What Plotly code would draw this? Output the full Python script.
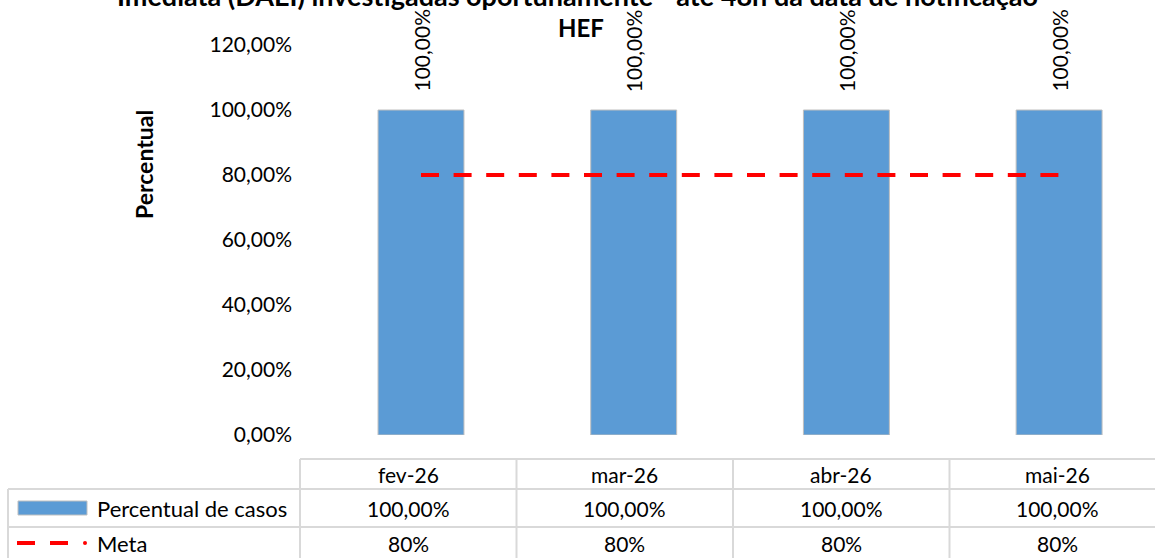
import plotly.graph_objects as go

# ---- data ----
categories = ["fev-26", "mar-26", "abr-26", "mai-26"]
percentual_casos = [100.0, 100.0, 100.0, 100.0]
meta = [80, 80, 80, 80]
y_ticks = [0, 20, 40, 60, 80, 100, 120]

title_line1 = "Imediata (DAEI) investigadas oportunamente - até 48h da data de notificação"
title_line2 = "HEF"
series_names = ["Percentual de casos", "Meta"]

FONT = "Lato"
W, H = 1155, 558
ML, MR, MT, MB = 298, 0, 45, 123
PW = W - ML - MR
PH = H - MT - MB


def fmt2(v):
    return f"{v:.2f}".replace(".", ",") + "%"


def px_x(px):
    return (px - ML) / PW


def px_y(py):
    return (H - MB - py) / PH


fig = go.Figure()

fig.add_trace(go.Bar(
    x=categories, y=percentual_casos, name=series_names[0],
    width=0.404,
    marker=dict(color="#5B9BD5", line=dict(color="#BFBFBF", width=1)),
    showlegend=False, hoverinfo="skip",
))
fig.add_trace(go.Scatter(
    x=categories, y=meta, name=series_names[1], mode="lines",
    line=dict(color="#FF0000", width=4, dash="18px,14.6px"),
    showlegend=False, hoverinfo="skip",
))

annotations = []
# bar value labels (rotated)
for c, v in zip(categories, percentual_casos):
    annotations.append(dict(
        x=c, y=v, xref="x", yref="y", text=fmt2(v), textangle=-90,
        showarrow=False, xanchor="center", yanchor="bottom", yshift=16,
        font=dict(family=FONT, size=21, color="#000000"),
    ))

# title
annotations.append(dict(
    x=px_x(W / 2), y=px_y(-5), xref="paper", yref="paper", text="<b>" + title_line1 + "</b>",
    showarrow=False, xanchor="center", yanchor="middle",
    font=dict(family=FONT, size=27, color="#000000"),
))
annotations.append(dict(
    x=px_x(W / 2 + 3), y=px_y(28), xref="paper", yref="paper", text="<b>" + title_line2 + "</b>",
    showarrow=False, xanchor="center", yanchor="middle",
    font=dict(family=FONT, size=24, color="#000000"),
))
# y axis title
annotations.append(dict(
    x=px_x(144), y=px_y(165), xref="paper", yref="paper", text="<b>Percentual</b>",
    textangle=-90, showarrow=False, xanchor="center", yanchor="middle",
    font=dict(family=FONT, size=23, color="#000000"),
))

# ---- data table below the chart ----
row_centers = [474, 508, 543]
for i, c in enumerate(categories):
    annotations.append(dict(x=i, y=px_y(row_centers[0]), xref="x2", yref="paper", text=c,
                            showarrow=False, xanchor="center", yanchor="middle",
                            font=dict(family=FONT, size=21, color="#000000")))
    annotations.append(dict(x=i, y=px_y(row_centers[1]), xref="x2", yref="paper",
                            text=fmt2(percentual_casos[i]),
                            showarrow=False, xanchor="center", yanchor="middle",
                            font=dict(family=FONT, size=21, color="#000000")))
    annotations.append(dict(x=i, y=px_y(row_centers[2]), xref="x2", yref="paper",
                            text=f"{meta[i]}%",
                            showarrow=False, xanchor="center", yanchor="middle",
                            font=dict(family=FONT, size=21, color="#000000")))
for name, rc in zip(series_names, row_centers[1:]):
    annotations.append(dict(x=px_x(95), y=px_y(rc), xref="paper", yref="paper", text=name,
                            showarrow=False, xanchor="left", yanchor="middle",
                            font=dict(family=FONT, size=22, color="#000000")))

GRID = "#D9D9D9"
shapes = []
# horizontal table lines
shapes.append(dict(type="line", xref="paper", yref="paper", x0=px_x(300), x1=1.02,
                   y0=px_y(459), y1=px_y(459), line=dict(color=GRID, width=2)))
for yy in (489, 527):
    shapes.append(dict(type="line", xref="paper", yref="paper", x0=px_x(8), x1=1.02,
                       y0=px_y(yy), y1=px_y(yy), line=dict(color=GRID, width=2)))
# left border
shapes.append(dict(type="line", xref="paper", yref="paper", x0=px_x(8), x1=px_x(8),
                   y0=px_y(489), y1=px_y(575), line=dict(color=GRID, width=2)))
# column borders (table scale)
for k in range(len(categories) + 1):
    shapes.append(dict(type="line", xref="x2", yref="paper", x0=k - 0.5, x1=k - 0.5,
                       y0=px_y(459), y1=px_y(575), line=dict(color=GRID, width=2)))
# legend keys
shapes.append(dict(type="rect", xref="paper", yref="paper", x0=px_x(18), x1=px_x(87),
                   y0=px_y(515), y1=px_y(501), fillcolor="#5B9BD5",
                   line=dict(color="#BFBFBF", width=1)))
for a, b in ((17, 35), (50, 68)):
    shapes.append(dict(type="line", xref="paper", yref="paper", x0=px_x(a), x1=px_x(b),
                       y0=px_y(row_centers[2]), y1=px_y(row_centers[2]),
                       line=dict(color="#FF0000", width=4)))
shapes.append(dict(type="circle", xref="paper", yref="paper", x0=px_x(83), x1=px_x(87),
                   y0=px_y(row_centers[2] + 2), y1=px_y(row_centers[2] - 2), fillcolor="#FF0000",
                   line=dict(color="#FF0000", width=0)))

bar_px = 212.7
first_center = 421
tbl_px = 216.5
tbl_left = 300

fig.update_layout(
    width=W, height=H,
    margin=dict(l=ML, r=MR, t=MT, b=MB, pad=0),
    paper_bgcolor="white", plot_bgcolor="white",
    font=dict(family=FONT, size=21, color="#000000"),
    xaxis=dict(
        type="category", range=[-(first_center - ML) / bar_px, (W - MR - first_center) / bar_px],
        showgrid=False, zeroline=False, showline=False, showticklabels=False, ticks="",
    ),
    xaxis2=dict(
        overlaying="x", anchor="y", visible=False,
        range=[-0.5 - (tbl_left - ML) / tbl_px, -0.5 + (W - MR - tbl_left) / tbl_px],
    ),
    yaxis=dict(
        range=[0, 120], tickvals=y_ticks, ticktext=[fmt2(t) for t in y_ticks],
        showgrid=False, zeroline=False, showline=False, ticks="",
        ticklabelstandoff=5,
        tickfont=dict(family=FONT, size=21, color="#000000"),
    ),
    annotations=annotations,
    shapes=shapes,
    showlegend=False,
)

fig.write_html("out.html", config={"displayModeBar": False},
               post_script="document.body.style.margin='0';")
